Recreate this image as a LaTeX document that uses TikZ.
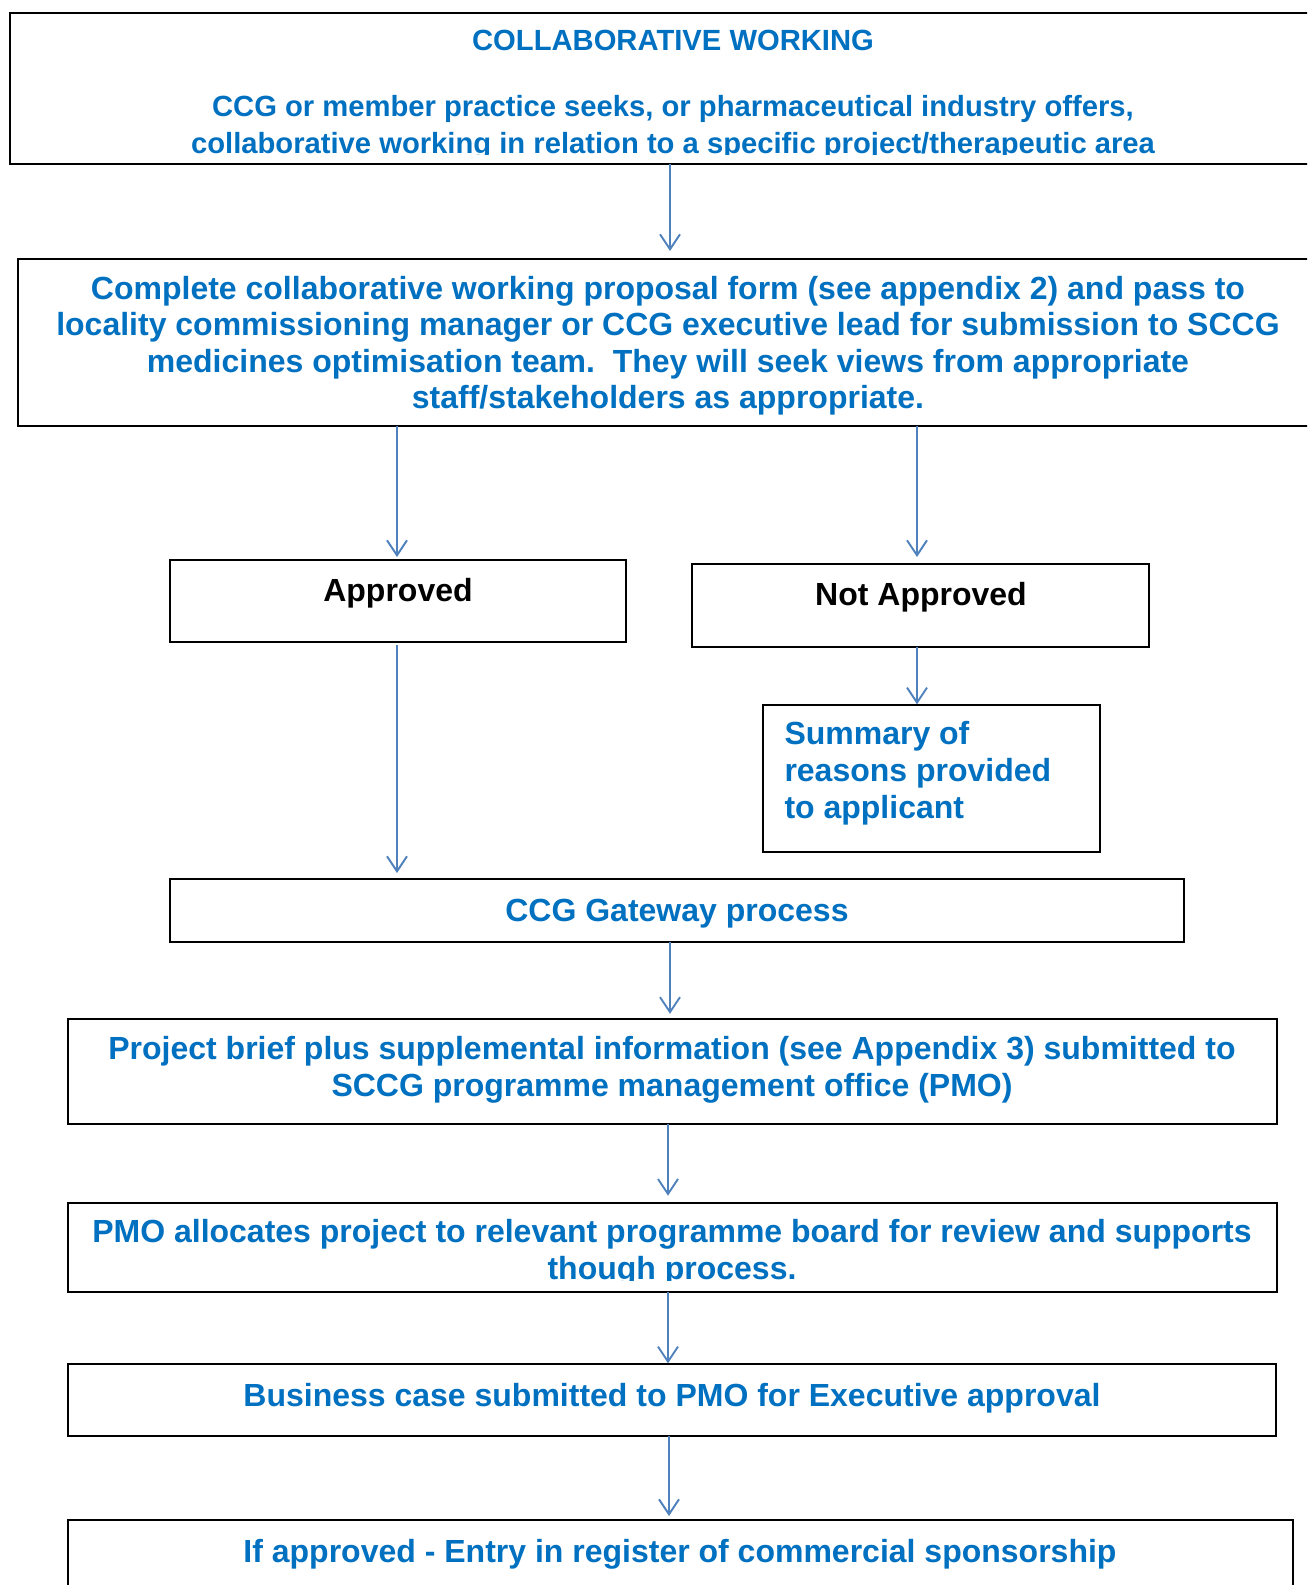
\documentclass[tikz,border=0pt]{standalone}
\usepackage{fontspec}
\setmainfont{Liberation Sans}
\usetikzlibrary{arrows.meta}
\definecolor{txtblue}{HTML}{0070C0}
\definecolor{arrblue}{HTML}{4F81BD}
\begin{document}
\begin{tikzpicture}[x=1pt,y=-1pt,
  box/.style={draw=black,line width=2pt,inner sep=0pt,outer sep=0pt,rectangle},
  arr/.style={draw=arrblue,line width=1.9pt,-{Straight Barb[length=15pt,width=20pt,line width=1.9pt]}},
  btxt/.style={text=txtblue,font=\bfseries\fontsize{32}{36.8}\selectfont,inner sep=0pt,align=center},
  stxt/.style={text=txtblue,font=\bfseries\fontsize{29.2}{36.6}\selectfont,inner sep=0pt,align=center},
  ktxt/.style={text=black,font=\bfseries\fontsize{32}{36.8}\selectfont,inner sep=0pt}]
\clip (0,0) rectangle (1307,1585);
\fill[white] (0,0) rectangle (1307,1585);
% boxes
\node[box,minimum width=1320pt,minimum height=151pt] (top) at (670,88.5) {};
\node[box,minimum width=1304pt,minimum height=167pt] (form) at (670,342.5) {};
\node[box,minimum width=456pt,minimum height=82pt] (ap) at (398,601) {};
\node[box,minimum width=457pt,minimum height=83pt] (na) at (920.5,605.5) {};
\node[box,minimum width=337pt,minimum height=147pt] (sum) at (931.5,778.8) {};
\node[box,minimum width=1014pt,minimum height=63pt] (gw) at (677,910.5) {};
\node[box,minimum width=1209pt,minimum height=105pt] (pb) at (672.5,1071.3) {};
\node[box,minimum width=1209pt,minimum height=89pt] (pmo) at (672.5,1247.2) {};
\node[box,minimum width=1208pt,minimum height=72pt] (bc) at (672,1400.3) {};
\node[box,minimum width=1225pt,minimum height=100pt] (reg) at (680.5,1570) {};
% texts
\node[stxt,anchor=base] (t0) at (673,50) {COLLABORATIVE WORKING};
\begin{scope}
\clip (0,0) rectangle (1307,154);
\node[stxt,anchor=north] (t1) at (673,95.4) {CCG or member practice seeks, or pharmaceutical industry offers,\\collaborative working in relation to a specific project/therapeutic area};
\end{scope}
\node[btxt,anchor=north,font=\bfseries\fontsize{32}{36.6}\selectfont] (t2) at (668,275.7) {Complete collaborative working proposal form (see appendix 2) and pass to\\locality commissioning manager or CCG executive lead for submission to SCCG\\medicines optimisation team.\ \ They will seek views from appropriate\\staff/stakeholders as appropriate.};
\node[ktxt,anchor=base] (t3) at (398,601.5) {Approved};
\node[ktxt,anchor=base] (t4) at (921,605) {Not Approved};
\node[btxt,anchor=north west,align=left,font=\bfseries\fontsize{32}{37.2}\selectfont] (t5) at (784.3,720.9) {Summary of\\reasons provided\\to applicant};
\node[btxt,anchor=base] (t6) at (677,921) {CCG Gateway process};
\node[btxt,anchor=north] (t7) at (672,1035.9) {Project brief plus supplemental information (see Appendix 3) submitted to\\SCCG programme management office (PMO)};
\begin{scope}
\clip (0,0) rectangle (1307,1280);
\node[btxt,anchor=north] (t8) at (672,1218.9) {PMO allocates project to relevant programme board for review and supports\\though process.};
\end{scope}
\node[btxt,anchor=base] (t9) at (672,1406) {Business case submitted to PMO for Executive approval};
\node[btxt,anchor=base] (t10) at (680,1562) {If approved - Entry in register of commercial sponsorship};
% arrow x positions
\coordinate (xa) at (670,0);
\coordinate (xl) at (397,0);
\coordinate (xr) at (917,0);
\coordinate (xm) at (668,0);
\coordinate (xn) at (669,0);
% connectors
\draw[arr,shorten >=8pt] (top.south -| xa) -- (form.north -| xa);
\draw[arr,shorten >=3pt] (form.south -| xl) -- (ap.north -| xl);
\draw[arr,shorten >=7pt] (form.south -| xr) -- (na.north -| xr);
\draw[arr,shorten >=1pt] (na.south -| xr) -- (sum.north -| xr);
\draw[arr,shorten <=3pt,shorten >=6pt] (ap.south -| xl) -- (gw.north -| xl);
\draw[arr,shorten >=5pt] (gw.south -| xa) -- (pb.north -| xa);
\draw[arr,shorten >=7pt] (pb.south -| xm) -- (pmo.north -| xm);
\draw[arr,shorten >=1pt] (pmo.south -| xm) -- (bc.north -| xm);
\draw[arr,shorten >=4pt] (bc.south -| xn) -- (reg.north -| xn);
\end{tikzpicture}
\end{document}
